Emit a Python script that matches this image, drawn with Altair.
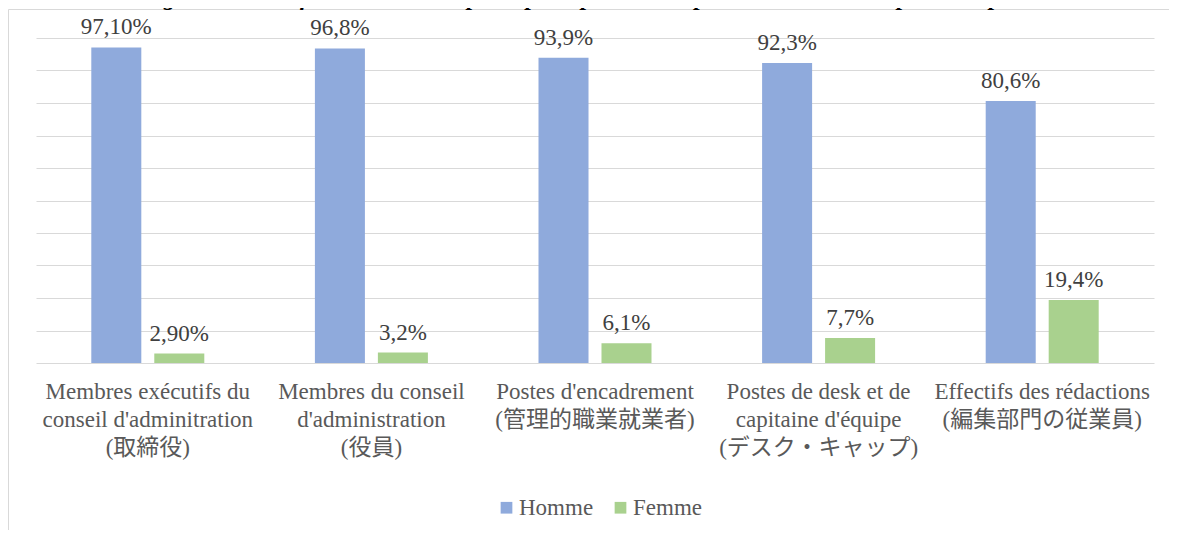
import altair as alt
import pandas as pd

categories = [
    "Membres exécutifs du\nconseil d'adminitration\n(取締役)",
    "Membres du conseil\nd'administration\n(役員)",
    "Postes d'encadrement\n(管理的職業就業者)",
    "Postes de desk et de\ncapitaine d'équipe\n(デスク・キャップ)",
    "Effectifs des rédactions\n(編集部門の従業員)",
]
series = ["Homme", "Femme"]
homme = [97.1, 96.8, 93.9, 92.3, 80.6]
femme = [2.9, 3.2, 6.1, 7.7, 19.4]
homme_labels = ["97,10%", "96,8%", "93,9%", "92,3%", "80,6%"]
femme_labels = ["2,90%", "3,2%", "6,1%", "7,7%", "19,4%"]
colors = ["#8FAADC", "#A9D18E"]
grid_values = [0, 10, 20, 30, 40, 50, 60, 70, 80, 90, 100]
title_text = "Figure 10 : Les femmes dans les principaux postes à responsabilité des entreprises de presse"

rows = []
for c, v, l in zip(categories, homme, homme_labels):
    rows.append({"cat": c, "sexe": "Homme", "value": v, "label": l})
for c, v, l in zip(categories, femme, femme_labels):
    rows.append({"cat": c, "sexe": "Femme", "value": v, "label": l})
df = pd.DataFrame(rows)

FONT = "Liberation Serif, Noto Sans CJK JP, serif"

x_enc = alt.X(
    "cat:N",
    sort=categories,
    scale=alt.Scale(paddingInner=0, paddingOuter=0),
    axis=alt.Axis(
        title=None,
        labelExpr="split(datum.label, '\\n')",
        labelAngle=0,
        labelFont=FONT,
        labelFontSize=23,
        labelLineHeight=28,
        labelColor="#595959",
        labelPadding=17,
        labelLimit=400,
        ticks=False,
        domain=False,
        grid=False,
    ),
)
xoff = alt.XOffset(
    "sexe:N",
    sort=series,
    scale=alt.Scale(paddingInner=0.206, paddingOuter=0.878),
)
y_enc = alt.Y(
    "value:Q",
    scale=alt.Scale(domain=[0, 100], nice=False),
    axis=alt.Axis(
        title=None,
        values=grid_values,
        tickCount=11,
        labels=False,
        ticks=False,
        domain=False,
        grid=True,
        gridColor="#D9D9D9",
        gridWidth=1,
    ),
)

bars = alt.Chart(df).mark_bar().encode(
    x=x_enc,
    xOffset=xoff,
    y=y_enc,
    color=alt.Color(
        "sexe:N",
        sort=series,
        scale=alt.Scale(domain=series, range=colors),
        legend=alt.Legend(
            title=None,
            orient="none",
            direction="horizontal",
            legendX=459,
            legendY=458,
            symbolType="square",
            symbolSize=137,
            symbolStrokeWidth=0,
            labelFont=FONT,
            labelFontSize=23,
            labelColor="#595959",
            labelOffset=1,
            columnPadding=15,
        ),
    ),
)

labels = alt.Chart(df).mark_text(
    font=FONT, fontSize=23, color="#404040", baseline="alphabetic", dy=-13
).encode(
    x=x_enc,
    xOffset=xoff,
    y=y_enc,
    text="label:N",
)

deco = pd.DataFrame({"t": [title_text]})
border = alt.Chart(deco).mark_rect(
    fillOpacity=0, stroke="#D9D9D9", strokeWidth=1
).encode(
    x=alt.value(-27.5), x2=alt.value(1300), y=alt.value(-28.5), y2=alt.value(700)
)
title = alt.Chart(deco).mark_text(
    font=FONT, fontSize=24, fontWeight="bold", fontStyle="italic",
    color="#000000", baseline="alphabetic", align="center"
).encode(
    x=alt.value(560), y=alt.value(-33), text="t:N"
)

chart = alt.layer(border, title, bars, labels).properties(
    width=1118,
    height=325,
    autosize=alt.AutoSizeParams(type="none"),
    padding={"left": 28, "top": 30, "right": 15, "bottom": 167},
    background="white",
).configure_view(stroke=None)

chart.save("out.html", embed_options={"renderer": "svg", "actions": False})
